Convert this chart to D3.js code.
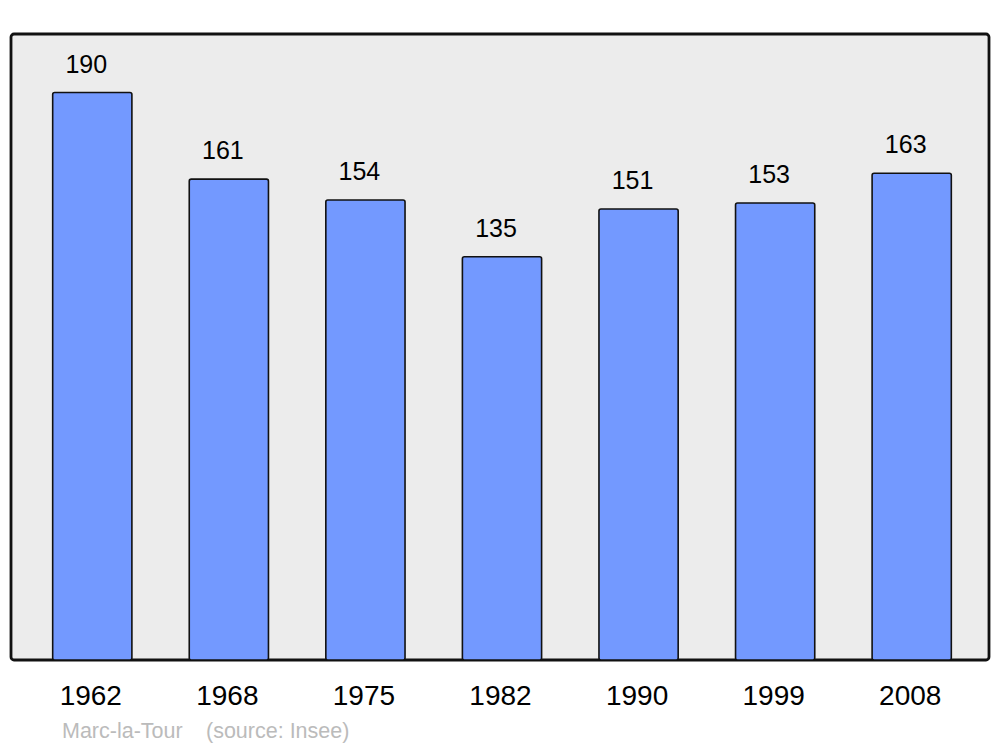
<!DOCTYPE html>
<html>
<head>
<meta charset="utf-8">
<script src="https://cdn.jsdelivr.net/npm/d3@7"></script>
<style>
body { margin: 0; background: #fff; }
text { font-family: "Liberation Sans", Arial, sans-serif; }
</style>
</head>
<body>
<script>
// population data
let years = ["1962", "1968", "1975", "1982", "1990", "1999", "2008"];
let population = [190, 161, 154, 135, 151, 153, 163];
let placeName = "Marc-la-Tour";
let sourceText = "(source: Insee)";

let width = 1000, height = 747;
let panel = {left: 11, top: 34, right: 989, bottom: 660};

var svg = d3.select("body").append("svg")
	.attr("width", width)
	.attr("height", height);

// background panel
svg.append("rect")
	.attr("x", panel.left)
	.attr("y", panel.top)
	.attr("width", panel.right - panel.left)
	.attr("height", panel.bottom - panel.top)
	.attr("rx", 3)
	.attr("fill", "#ececec")
	.attr("stroke", "#111")
	.attr("stroke-width", 2.8);

var x = d3.scaleBand()
	.domain(years)
	.range([24, 980])
	.paddingInner(0.42)
	.paddingOuter(0.21);

var y = d3.scaleLinear()
	.domain([0, 209.6])
	.range([panel.bottom, panel.top]);

var data = years.map(function (d, i) { return {year: d, value: population[i]}; });

svg.selectAll("rect.bar")
	.data(data)
	.enter().append("rect")
	.attr("class", "bar")
	.attr("x", function (d) { return x(d.year); })
	.attr("y", function (d) { return y(d.value); })
	.attr("width", x.bandwidth())
	.attr("height", function (d) { return panel.bottom - y(d.value); })
	.attr("rx", 2)
	.attr("fill", "#7399ff")
	.attr("stroke", "#111")
	.attr("stroke-width", 1.6);

// value labels
svg.selectAll("text.value")
	.data(data)
	.enter().append("text")
	.attr("class", "value")
	.attr("x", function (d) { return x(d.year) + x.bandwidth() / 2 - 6; })
	.attr("y", function (d) { return y(d.value) - 20; })
	.attr("text-anchor", "middle")
	.attr("font-size", 25)
	.attr("fill", "#000")
	.text(function (d) { return d.value; });

// year labels
svg.selectAll("text.year")
	.data(data)
	.enter().append("text")
	.attr("class", "year")
	.attr("x", function (d) { return x(d.year) + x.bandwidth() / 2 - 1.5; })
	.attr("y", 705)
	.attr("text-anchor", "middle")
	.attr("font-size", 28)
	.attr("fill", "#000")
	.text(function (d) { return d.value === undefined ? "" : d.year; });

// source
svg.append("text")
	.attr("x", 62)
	.attr("y", 738)
	.attr("font-size", 21.5)
	.attr("fill", "#bbb")
	.text(placeName);

svg.append("text")
	.attr("x", 206)
	.attr("y", 738)
	.attr("font-size", 21.5)
	.attr("fill", "#bbb")
	.text(sourceText);
</script>
</body>
</html>
